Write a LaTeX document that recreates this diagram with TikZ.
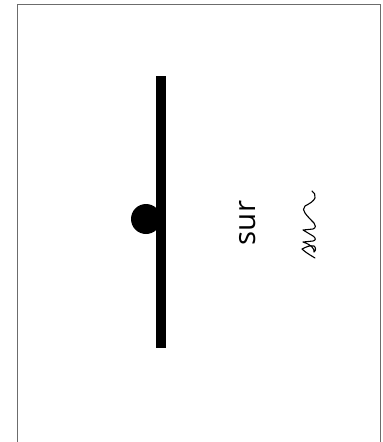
\documentclass[tikz,border=0pt]{standalone}
\usepackage{fontspec}
\newfontfamily\labelfont{Open Sans}
\begin{document}
\begin{tikzpicture}[x=1pt,y=-1pt,
  frame/.style={draw=gray!85!black,line width=1pt},
  barfill/.style={fill=black,draw=none},
  cursive/.style={draw=black,line width=1.1pt,line cap=round,line join=round}]
\useasboundingbox (0,0) rectangle (383,442);
% frame (open at the bottom)
\draw[frame] (17.5,442) -- (17.5,4) -- (380,4) -- (380,442);
% bar and dot
\fill[barfill] (156,76) rectangle (166,348);
\fill[barfill] (146,219) circle[radius=15];
% printed word
\node[rotate=90,inner sep=0pt,font=\labelfont\fontsize{29.5}{30}\selectfont] (word) at (247.5,223) {sur};
% handwritten word
\begin{scope}[shift={(316,258)},x={(0pt,1pt)},y={(-1pt,0pt)}]
\draw[cursive] (0,1) .. controls (3,6) and (6,11) .. (9,14)
  .. controls (11,10) and (13,6) .. (12,2)
  .. controls (11,0) and (7,0) .. (6,2)
  .. controls (9,1.5) and (13,4) .. (16,13)
  -- (17,3) .. controls (17.5,0) and (20,0) .. (22,3)
  -- (28,13) -- (29,3) .. controls (30,0) and (33,0) .. (35,2)
  .. controls (38,5) and (42,9) .. (45,11)
  .. controls (47,13) and (50,13) .. (52,11)
  .. controls (54,7) and (57,2) .. (60,1)
  .. controls (63,0) and (66,2) .. (67,4);
\end{scope}
\end{tikzpicture}
\end{document}
